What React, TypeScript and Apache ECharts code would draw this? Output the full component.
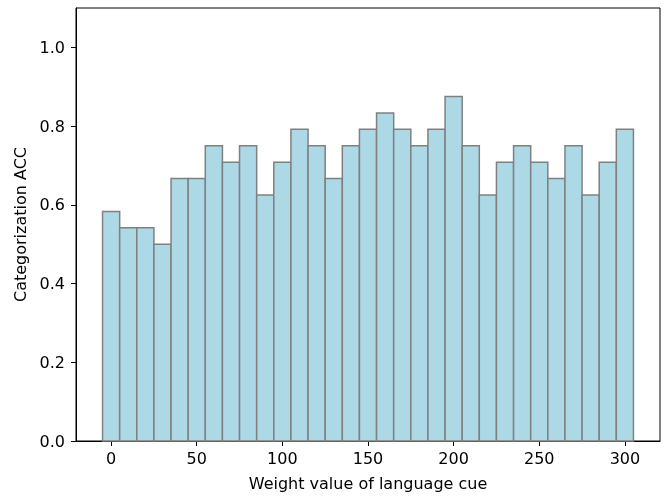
import React, { useEffect, useRef } from "react";
import * as echarts from "echarts";

const weights = [0, 10, 20, 30, 40, 50, 60, 70, 80, 90, 100, 110, 120, 130, 140, 150, 160, 170, 180, 190, 200, 210, 220, 230, 240, 250, 260, 270, 280, 290, 300];
const accuracy = [0.583, 0.542, 0.542, 0.5, 0.667, 0.667, 0.75, 0.708, 0.75, 0.625, 0.708, 0.792, 0.75, 0.667, 0.75, 0.792, 0.833, 0.792, 0.75, 0.792, 0.875, 0.75, 0.625, 0.708, 0.75, 0.708, 0.667, 0.75, 0.625, 0.708, 0.792];
const xTicks = [0, 50, 100, 150, 200, 250, 300];
const yTicks = [0, 0.2, 0.4, 0.6, 0.8, 1.0];
const barWidthUnits = 10;

export default function App() {
  const ref = useRef<HTMLDivElement>(null);
  useEffect(() => {
    const chart = echarts.init(ref.current!, null, { renderer: "svg" });
    const font = "DejaVu Sans";
    chart.setOption({
      animation: false,
      grid: { left: 76, top: 8, right: 5, bottom: 55, show: true, borderColor: "#000", borderWidth: 1, backgroundColor: "transparent" },
      xAxis: {
        type: "value",
        min: -20.5,
        max: 320.5,
        name: "Weight value of language cue",
        nameLocation: "middle",
        nameGap: 34,
        nameTextStyle: { fontFamily: font, fontSize: 16, color: "#000" },
        splitLine: { show: false },
        axisLine: { show: true, onZero: false, lineStyle: { color: "#000", width: 1 } },
        axisTick: { show: true, length: 5, lineStyle: { color: "#000" }, customValues: xTicks },
        axisLabel: { fontFamily: font, fontSize: 16, color: "#000", margin: 9, customValues: xTicks, formatter: (v: number) => String(v) },
      },
      yAxis: {
        type: "value",
        min: 0,
        max: 1.1,
        name: "Categorization ACC",
        nameLocation: "middle",
        nameGap: 43,
        nameTextStyle: { fontFamily: font, fontSize: 16, color: "#000" },
        splitLine: { show: false },
        axisLine: { show: true, onZero: false, lineStyle: { color: "#000", width: 1 } },
        axisTick: { show: true, length: 5, lineStyle: { color: "#000" }, customValues: yTicks },
        axisLabel: { fontFamily: font, fontSize: 16, color: "#000", margin: 11, customValues: yTicks, formatter: (v: number) => v.toFixed(1) },
      },
      series: [
        {
          type: "custom",
          data: weights.map((w, i) => [w, accuracy[i]]),
          encode: { x: 0, y: 1 },
          renderItem: (params: any, api: any) => {
            const x = api.value(0);
            const y = api.value(1);
            const p0 = api.coord([x - barWidthUnits / 2, 0]);
            const p1 = api.coord([x + barWidthUnits / 2, y]);
            return {
              type: "rect",
              shape: { x: p0[0], y: p1[1], width: p1[0] - p0[0], height: p0[1] - p1[1] },
              style: { fill: "#ADD8E6", stroke: "#808080", lineWidth: 1.5 },
            };
          },
        },
      ],
    });
    return () => chart.dispose();
  }, []);
  return <div ref={ref} style={{ position: "fixed", left: 0, top: 0, width: 665, height: 496 }} />;
}
